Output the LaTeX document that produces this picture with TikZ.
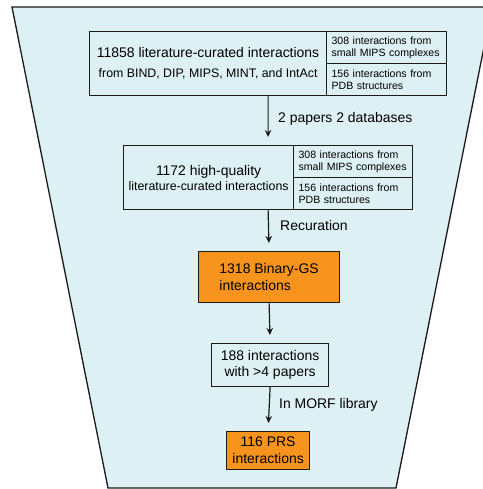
\documentclass[tikz,border=0pt]{standalone}
\usepackage{fontspec}
\setmainfont{Liberation Sans}
\usetikzlibrary{arrows.meta}
\definecolor{bgc}{HTML}{DDF0F3}
\definecolor{org}{HTML}{F7941D}
\definecolor{ink}{HTML}{1A1A1A}
\newcommand{\fsz}[2]{\fontsize{#1}{#2}\selectfont}
\begin{document}
\begin{tikzpicture}[x=1bp,y=-1bp,
  frame/.style={draw=ink, line width=1.2bp, inner sep=0pt, anchor=north west},
  smallcell/.style={frame, align=left, text width=110bp, inner xsep=5bp, font=\fsz{10.6}{12.5}},
  bigcell/.style={frame, align=center, font=\fsz{14}{20}},
  arr/.style={draw=ink, line width=1.2bp, -{Stealth[length=7bp,width=6.5bp]}, shorten >=8bp},
  lbl/.style={inner sep=0pt, anchor=base west, font=\fsz{14}{16}},
  step/.style={}]
\useasboundingbox (0,0) rectangle (483,489);
\begin{scope}
\clip (0,0) rectangle (483,489);
\draw[line width=1.3bp, draw=ink, fill=bgc] (12,7) -- (492,7) -- (396,488) -- (108,488) -- cycle;
\end{scope}

% Box 1
\node[frame, minimum width=357bp, minimum height=64bp] (b1) at (89,31) {};
\node[bigcell, minimum width=237bp, minimum height=64bp] (b1l) at (89,31)
  {11858 literature-curated interactions\\{\fsz{12.4}{20}from BIND, DIP, MIPS, MINT, and IntAct}};
\node[smallcell, minimum width=120bp, minimum height=32bp] (b1a) at (326,31)
  {308 interactions from\\small MIPS complexes};
\node[smallcell, minimum width=120bp, minimum height=32bp] (b1b) at (326,63)
  {156 interactions from\\PDB structures};

% Box 2
\node[frame, minimum width=289bp, minimum height=64bp] (b2) at (123,145) {};
\node[bigcell, font=\fsz{14}{15}, minimum width=170bp, minimum height=64bp] (b2l) at (123,145)
  {1172 high-quality\\{\fsz{12.4}{15}literature-curated interactions}};
\node[smallcell, minimum width=119bp, minimum height=32bp, text width=109bp] (b2a) at (293,145)
  {308 interactions from\\small MIPS complexes};
\node[smallcell, minimum width=119bp, minimum height=32bp, text width=109bp] (b2b) at (293,177)
  {156 interactions from\\PDB structures};

% Box 3
\node[frame, fill=org, align=left, font=\fsz{14}{16.5}, minimum width=141bp, minimum height=51bp] (b3) at (198,251)
  {1318 Binary-GS\\interactions};
% Box 4
\node[frame, align=center, font=\fsz{14}{16.5}, minimum width=117bp, minimum height=43bp] (b4) at (211,343)
  {188 interactions\\with >4 papers};
% Box 5
\node[frame, fill=org, align=center, font=\fsz{14}{17}, minimum width=83bp, minimum height=38bp] (b5) at (226,431)
  {116 PRS\\interactions};

% Arrows
\draw[arr] (b1.south) -- (b2.north);
\draw[arr] (b2.south) -- (b3.north);
\draw[arr] (b3.south) -- (b4.north);
\draw[arr] (b4.south) -- (b5.north);

% Labels
\node[lbl] (l1) at (278,123) {2 papers 2 databases};
\node[lbl] (l2) at (280,230) {Recuration};
\node[lbl] (l3) at (279,408) {In MORF library};
\end{tikzpicture}
\end{document}
